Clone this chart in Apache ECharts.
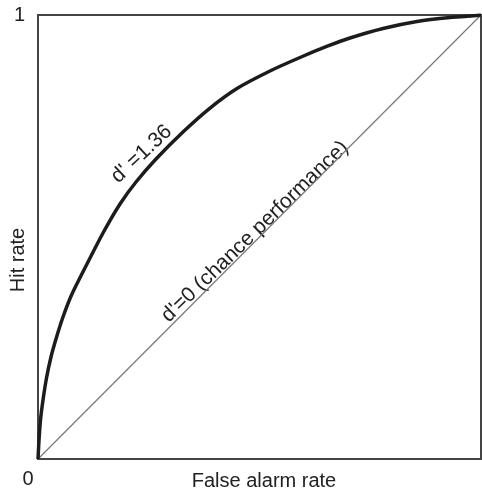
<!DOCTYPE html>
<html>
<head>
<meta charset="utf-8">
<script src="https://cdn.jsdelivr.net/npm/echarts@6/dist/echarts.min.js"></script>
<style>
html,body{margin:0;padding:0;background:#fff;}
#chart{width:482px;height:493px;}
</style>
</head>
<body>
<div id="chart"></div>
<script>
var falseAlarm = [0, 0.0023, 0.0056, 0.0113, 0.0192, 0.0293, 0.0406, 0.0564, 0.0767, 0.1129, 0.1467, 0.1851, 0.2212, 0.2664, 0.3296, 0.3883, 0.4492, 0.5237, 0.5914, 0.6546, 0.7043, 0.7788, 0.8555, 0.9300, 0.9910, 1];
var hitRate    = [0, 0.0428, 0.0878, 0.1329, 0.1824, 0.2297, 0.2703, 0.3198, 0.3716, 0.4437, 0.5090, 0.5743, 0.6239, 0.6757, 0.7387, 0.7905, 0.8345, 0.8739, 0.9043, 0.9302, 0.9482, 0.9696, 0.9854, 0.9944, 0.9989, 1];
// Chance line d'=0
var chanceX = [0, 1];
var chanceY = [0, 1];
var tickValues = [0, 1];
var curveLabel = "d' =1.36";
var chanceLabel = "d'=0 (chance performance)";
var xName = 'False alarm rate';
var yName = 'Hit rate';

var curveData = falseAlarm.map(function (x, i) { return [x, hitRate[i]]; });
var chanceData = chanceX.map(function (x, i) { return [x, chanceY[i]]; });

var FONT = '"Liberation Sans", Arial, Helvetica, sans-serif';
var chart = echarts.init(document.getElementById('chart'));
chart.setOption({
  animation: false,
  backgroundColor: '#fff',
  grid: { left: 38, top: 15, right: 1, bottom: 34, show: true, borderColor: '#444', borderWidth: 2, containLabel: false, outerBoundsMode: 'none' },
  xAxis: {
    type: 'value', min: 0, max: 1, interval: 1,
    axisLine: { show: true, lineStyle: { color: '#444', width: 2 } },
    axisTick: { show: false }, splitLine: { show: false },
    axisLabel: {
      margin: 10, fontFamily: FONT, fontSize: 20, color: '#222', hideOverlap: false,
      formatter: function (v) { return v === 0 ? '{a|' + tickValues[0] + '}' : '{b|' + tickValues[1] + '}'; },
      rich: {
        a: { fontFamily: FONT, fontSize: 20, color: '#222', padding: [0, 20, 0, 0] },
        b: { fontFamily: FONT, fontSize: 20, color: '#222', padding: [0, 0, 0, 12] }
      }
    }
  },
  yAxis: {
    type: 'value', min: 0, max: 1, interval: 1,
    axisLine: { show: true, lineStyle: { color: '#444', width: 2 } },
    axisTick: { show: false }, splitLine: { show: false },
    axisLabel: {
      margin: 13, fontFamily: FONT, fontSize: 20, color: '#222',
      formatter: function (v) { return v === 1 ? String(tickValues[1]) : ''; }
    }
  },
  series: [
    {
      type: 'line', data: chanceData, symbol: 'none', silent: true,
      lineStyle: { color: '#777', width: 1.2 }
    },
    {
      type: 'line', data: curveData, symbol: 'none', smooth: 0.2, silent: true,
      lineStyle: { color: '#1c1c1c', width: 3.5, join: 'round' }
    }
  ]
});

function place() {
  var p1 = chart.convertToPixel({ gridIndex: 0 }, [0.234, 0.687]);
  var p2 = chart.convertToPixel({ gridIndex: 0 }, [0.49, 0.512]);
  chart.setOption({
    graphic: [
      { type: 'text', x: p1[0], y: p1[1], rotation: 43 * Math.PI / 180,
        style: { text: curveLabel, fontFamily: FONT, fontSize: 21, fill: '#222', align: 'center', verticalAlign: 'middle' } },
      { type: 'text', x: p2[0], y: p2[1], rotation: 44 * Math.PI / 180,
        style: { text: chanceLabel, fontFamily: FONT, fontSize: 21, fill: '#222', align: 'center', verticalAlign: 'middle' } },
      { type: 'text', x: 264, y: 481,
        style: { text: xName, fontFamily: FONT, fontSize: 20, fill: '#222', align: 'center', verticalAlign: 'middle' } },
      { type: 'text', x: 18, y: 260, rotation: Math.PI / 2,
        style: { text: yName, fontFamily: FONT, fontSize: 20, fill: '#222', align: 'center', verticalAlign: 'middle' } }
    ]
  });
}
place();
</script>
</body>
</html>
